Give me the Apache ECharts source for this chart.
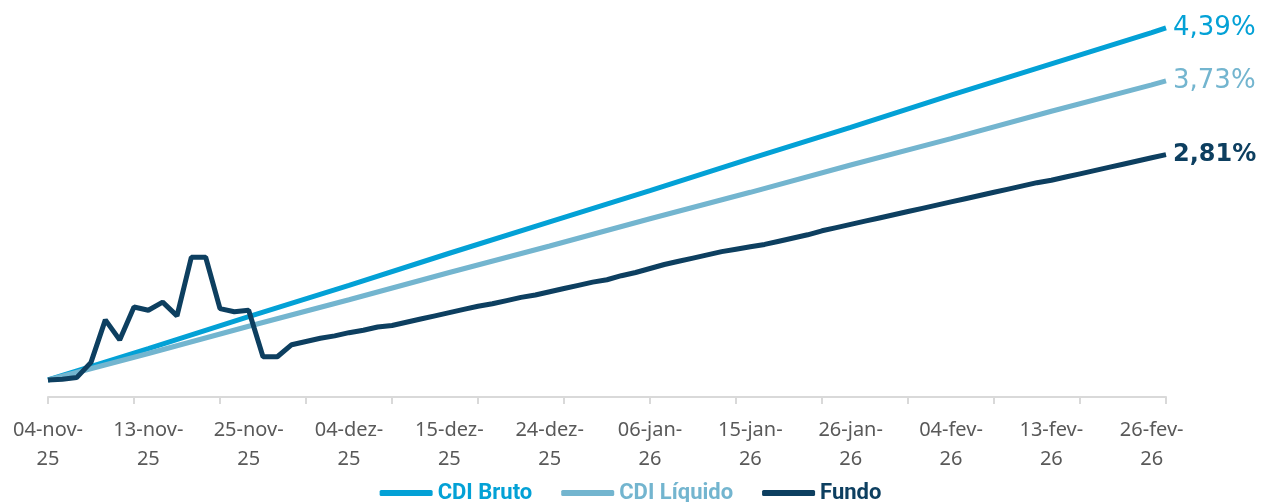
<!DOCTYPE html>
<html>
<head>
<meta charset="utf-8">
<title>CDI x Fundo</title>
<script src="https://cdn.jsdelivr.net/npm/echarts@6/dist/echarts.min.js"></script>
<style>
  html, body { margin: 0; padding: 0; background: #fff; }
  #chart { width: 1261px; height: 502px; }
</style>
</head>
<body>
<div id="chart"></div>
<script>
// dias úteis de 04-nov-25 a 27-fev-26
const dias = [
  '04-nov-25', '05-nov-25', '06-nov-25', '07-nov-25', '10-nov-25', '11-nov-25', '12-nov-25',
  '13-nov-25', '14-nov-25', '17-nov-25', '18-nov-25', '19-nov-25', '21-nov-25', '24-nov-25',
  '25-nov-25', '26-nov-25', '27-nov-25', '28-nov-25', '01-dez-25', '02-dez-25', '03-dez-25',
  '04-dez-25', '05-dez-25', '08-dez-25', '09-dez-25', '10-dez-25', '11-dez-25', '12-dez-25',
  '15-dez-25', '16-dez-25', '17-dez-25', '18-dez-25', '19-dez-25', '22-dez-25', '23-dez-25',
  '24-dez-25', '26-dez-25', '29-dez-25', '30-dez-25', '31-dez-25', '02-jan-26', '05-jan-26',
  '06-jan-26', '07-jan-26', '08-jan-26', '09-jan-26', '12-jan-26', '13-jan-26', '14-jan-26',
  '15-jan-26', '16-jan-26', '19-jan-26', '20-jan-26', '21-jan-26', '22-jan-26', '23-jan-26',
  '26-jan-26', '27-jan-26', '28-jan-26', '29-jan-26', '30-jan-26', '02-fev-26', '03-fev-26',
  '04-fev-26', '05-fev-26', '06-fev-26', '09-fev-26', '10-fev-26', '11-fev-26', '12-fev-26',
  '13-fev-26', '18-fev-26', '19-fev-26', '20-fev-26', '23-fev-26', '24-fev-26', '25-fev-26',
  '26-fev-26', '27-fev-26'
]

const cdiPos = [0, 7, 14, 21, 28, 35, 42, 49, 56, 63, 70, 77, 78]
const cdiBruto = [0, 0.39, 0.79, 1.18, 1.58, 1.97, 2.36, 2.76, 3.15, 3.55, 3.94, 4.33, 4.39]
const cdiLiquido = [0, 0.33, 0.67, 1.00, 1.34, 1.67, 2.01, 2.34, 2.68, 3.01, 3.35, 3.68, 3.73]

// rentabilidade acumulada do fundo (%)
const fundo = [
  0.00, 0.01, 0.03, 0.22, 0.75, 0.50, 0.91, 0.87, 0.97, 0.80,
  1.53, 1.53, 0.89, 0.85, 0.87, 0.29, 0.29, 0.44, 0.48, 0.52,
  0.55, 0.59, 0.62, 0.66, 0.68, 0.72, 0.76, 0.80, 0.84, 0.88,
  0.92, 0.95, 0.99, 1.03, 1.06, 1.10, 1.14, 1.18, 1.22, 1.25,
  1.30, 1.34, 1.39, 1.44, 1.48, 1.52, 1.56, 1.60, 1.63, 1.66,
  1.69, 1.73, 1.77, 1.81, 1.86, 1.90, 1.94, 1.98, 2.02, 2.06,
  2.10, 2.14, 2.18, 2.22, 2.26, 2.30, 2.34, 2.38, 2.42, 2.46,
  2.49, 2.53, 2.57, 2.61, 2.65, 2.69, 2.73, 2.77, 2.81
]

const corBruto = '#03a1d6'
const corLiquido = '#73b5cf'
const corFundo = '#0d3f60'

const pct = p => {
  const v = Array.isArray(p.value) ? p.value[1] : p.value
  return v.toFixed(2).replace('.', ',') + '%'
}

const chart = echarts.init(document.getElementById('chart'))

chart.setOption({
  animation: false,
  grid: {
    left: 48,
    right: 95,
    top: 11,
    bottom: 105
  },
  legend: {
    bottom: -7,
    left: 'center',
    itemWidth: 53,
    itemHeight: 6,
    itemGap: 29,
    icon: 'roundRect',
    textStyle: { fontFamily: 'Roboto', fontWeight: 'bold', fontSize: 22 },
    data: [
      { name: 'CDI Bruto', textStyle: { color: corBruto } },
      { name: 'CDI Líquido', textStyle: { color: corLiquido } },
      { name: 'Fundo', textStyle: { color: corFundo } }
    ]
  },
  xAxis: {
    type: 'category',
    data: dias,
    boundaryGap: false,
    axisLine: { onZero: false, lineStyle: { color: '#d9d9d9', width: 2 } },
    axisTick: { interval: 5, length: 7, lineStyle: { color: '#d9d9d9', width: 2 } },
    axisLabel: {
      interval: 6,
      margin: 19,
      color: '#595959',
      fontFamily: 'Noto Sans',
      fontSize: 20,
      lineHeight: 29,
      formatter: v => v.slice(0, 7) + '\n' + v.slice(7)
    }
  },
  yAxis: {
    type: 'value',
    show: false,
    min: -0.212,
    max: 4.6,
    splitLine: { show: false }
  },
  series: [
    {
      name: 'CDI Bruto',
      type: 'line',
      data: cdiPos.map((i, k) => [i, cdiBruto[k]]),
      showSymbol: false,
      symbol: 'none',
      color: corBruto,
      lineStyle: { width: 5, color: corBruto },
      endLabel: {
        show: true,
        distance: 7,
        formatter: pct,
        color: corBruto,
        fontFamily: 'DejaVu Sans',
        fontSize: 26
      }
    },
    {
      name: 'CDI Líquido',
      type: 'line',
      data: cdiPos.map((i, k) => [i, cdiLiquido[k]]),
      showSymbol: false,
      symbol: 'none',
      color: corLiquido,
      lineStyle: { width: 5, color: corLiquido },
      endLabel: {
        show: true,
        distance: 7,
        formatter: pct,
        color: corLiquido,
        fontFamily: 'DejaVu Sans',
        fontSize: 26
      }
    },
    {
      name: 'Fundo',
      type: 'line',
      data: fundo,
      showSymbol: false,
      symbol: 'none',
      color: corFundo,
      lineStyle: { width: 5, color: corFundo },
      endLabel: {
        show: true,
        distance: 7,
        formatter: pct,
        color: corFundo,
        fontFamily: 'DejaVu Sans',
        fontWeight: 'bold',
        fontSize: 24
      }
    }
  ]
})
</script>
</body>
</html>
